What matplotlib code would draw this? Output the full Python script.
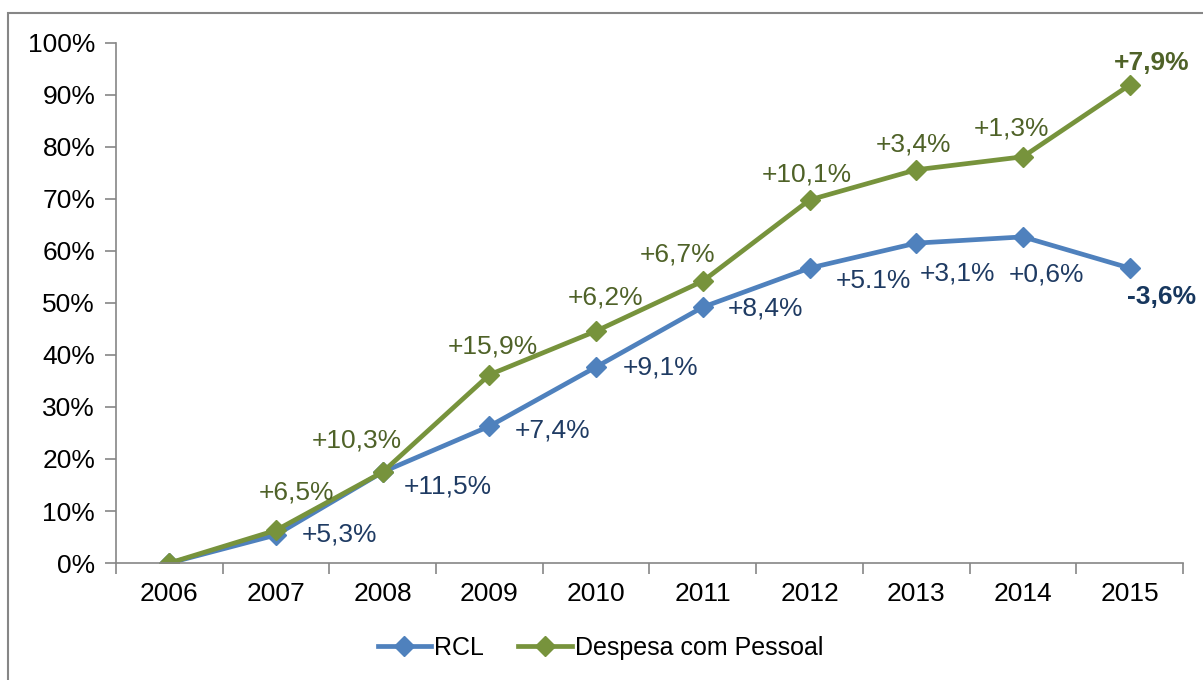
import matplotlib.pyplot as plt
from matplotlib.patches import Rectangle
import numpy as np

plt.rcParams['font.family'] = ['Liberation Sans', 'DejaVu Sans']

anos = ['2006', '2007', '2008', '2009', '2010', '2011', '2012', '2013', '2014', '2015']
rcl = [0, 5.4, 17.5, 26.3, 37.7, 49.2, 56.7, 61.5, 62.7, 56.7]
pessoal = [0, 6.3, 17.5, 36.2, 44.6, 54.2, 69.8, 75.6, 78.1, 91.9]
rcl_lab = ['', '+5,3%', '+11,5%', '+7,4%', '+9,1%', '+8,4%', '+5.1%', '+3,1%', '+0,6%', '-3,6%']
pessoal_lab = ['', '+6,5%', '+10,3%', '+15,9%', '+6,2%', '+6,7%', '+10,1%', '+3,4%', '+1,3%', '+7,9%']

# label offsets in pixels (dx, dy), positive dy = up
rcl_off = [(0, 0), (63, 0), (65, -14), (63, -4), (64, -1), (63, -1), (64, -13), (41, -30), (24, -38), (32, -29)]
pes_off = [(0, 0), (20, 38), (-26, 32), (3, 28), (9, 34), (-25, 27), (-3, 25), (-3, 25), (-11, 28), (22, 22)]

azul = '#4F81BD'
verde = '#77933C'
azul_txt = '#1F3B63'
verde_txt = '#4F6228'

fig = plt.figure(figsize=(12.03, 6.8), dpi=100)
ax = fig.add_axes([0.0964, 0.172, 0.887, 0.765])

x = np.arange(len(anos))
ax.plot(x, rcl, color=azul, lw=3.4, marker='D', ms=10, label='RCL')
ax.plot(x, pessoal, color=verde, lw=3.4, marker='D', ms=10, label='Despesa com Pessoal')

for i in range(1, len(anos)):
    ultimo = i == len(anos) - 1
    ax.annotate(rcl_lab[i], (x[i], rcl[i]), xytext=rcl_off[i], textcoords='offset pixels',
                ha='center', va='center', fontsize=19, color='#17375E' if ultimo else azul_txt,
                fontweight='bold' if ultimo else 'normal')
    ax.annotate(pessoal_lab[i], (x[i], pessoal[i]), xytext=pes_off[i], textcoords='offset pixels',
                ha='center', va='center', fontsize=19, color=verde_txt,
                fontweight='bold' if ultimo else 'normal')

ax.set_xlim(-0.5, len(anos) - 0.5)
ax.set_ylim(0, 100)
ax.set_yticks(range(0, 101, 10))
ax.set_yticklabels([f'{v}%' for v in range(0, 101, 10)])
ax.set_xticks(x)
ax.set_xticklabels(anos)
ax.set_xticks(np.arange(-0.5, len(anos), 1), minor=True)
ax.tick_params(axis='x', which='major', length=0, pad=14, labelsize=19)
ax.tick_params(axis='x', which='minor', length=8, direction='out', color='#868686', width=1.2)
ax.tick_params(axis='y', length=8, direction='out', color='#868686', width=1.2, labelsize=19, pad=7)
for s in ['top', 'right']:
    ax.spines[s].set_visible(False)
for s in ['left', 'bottom']:
    ax.spines[s].set_color('#868686')
    ax.spines[s].set_linewidth(1.2)

fig.legend(loc='center', bbox_to_anchor=(0.499, 0.047), ncol=2, frameon=False,
           fontsize=18, handlelength=2.15, handletextpad=0.12, columnspacing=1.35)

fig.patches.append(Rectangle((8 / 1203, -0.1), 1.1, 1 - 13 / 680 + 0.1, transform=fig.transFigure,
                             fill=False, edgecolor='#868686', lw=1.5))

fig.savefig('out.png', dpi=100)
